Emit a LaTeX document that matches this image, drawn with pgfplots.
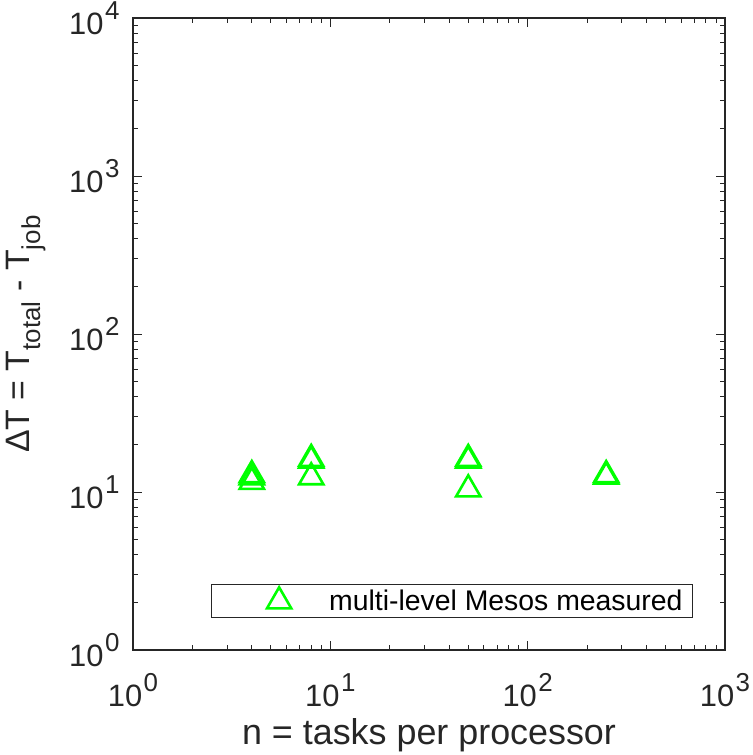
\documentclass[border=0pt]{standalone}
\usepackage{pgfplots}
\pgfplotsset{compat=1.18}
\usepackage{fontspec}
\setmainfont{Liberation Sans}
\definecolor{mgreen}{rgb}{0,1,0}
\definecolor{axgray}{rgb}{0.15,0.15,0.15}
\newcommand{\tp}[1]{10\hspace{1.5bp}\raisebox{15bp}{\fontsize{26}{28}\selectfont #1}}
\begin{document}
\begin{tikzpicture}
\begin{axis}[
  name=ax,
  scale only axis,
  width=592bp, height=632bp,
  xmode=log, ymode=log,
  xmin=1, xmax=1000, ymin=1, ymax=10000,
  xtick={1,10,100,1000},
  xticklabels={\tp{0},\tp{1},\tp{2},\tp{3}},
  ytick={1,10,100,1000,10000},
  yticklabels={\tp{0},\tp{1},\tp{2},\tp{3},\tp{4}},
  tick align=inside,
  major tick length=9bp,
  minor tick length=5bp,
  axis line style={line width=1.2pt, axgray},
  tick style={line width=0.9pt, axgray},
  every tick label/.append style={font=\fontsize{31}{33}\selectfont, text=axgray},
  xticklabel style={yshift=-20bp},
  yticklabel style={xshift=-10bp},
  xlabel style={font=\fontsize{36}{38}\selectfont, text=axgray, yshift=-5bp},
  ylabel style={font=\fontsize{34}{36}\selectfont, text=axgray, yshift=17bp},
  xlabel={n = tasks per processor},
  ylabel={ΔT = T\textsubscript{\fontsize{26}{28}\selectfont total} - T\textsubscript{\fontsize{26}{28}\selectfont job}},
  legend style={at={(0.946,0.051)}, anchor=south east, draw=axgray, line width=0.9pt,
    font=\fontsize{28.5}{31}\selectfont, text=black, inner xsep=8bp, inner ysep=3bp},
  legend cell align=left,
]
\addplot[only marks, mark=triangle, mark size=14bp, color=mgreen, line width=2.6pt, forget plot]
 coordinates {
 (4,12.8) (4,12.4) (4,11.6)
 (8,16.2) (8,15.8) (8,12.4)
 (50,16.2) (50,15.8) (50,10.4)
 (250,12.8) (250,12.5)
 };
\addlegendimage{legend image code/.code={\path[draw=none] (0bp,0bp) rectangle (108bp,1bp); \draw[mgreen, line width=2.6pt, mark=triangle, mark size=14bp] plot coordinates {(60bp,0bp)};}}
\addlegendentry{multi-level Mesos measured}
\end{axis}
\pgfresetboundingbox
\path (ax.south west) ++(-133bp,-105bp) coordinate (bl);
\path (ax.north east) ++(28bp,18bp) coordinate (tr);
\path[use as bounding box] (bl) rectangle (tr);
\end{tikzpicture}
\end{document}
